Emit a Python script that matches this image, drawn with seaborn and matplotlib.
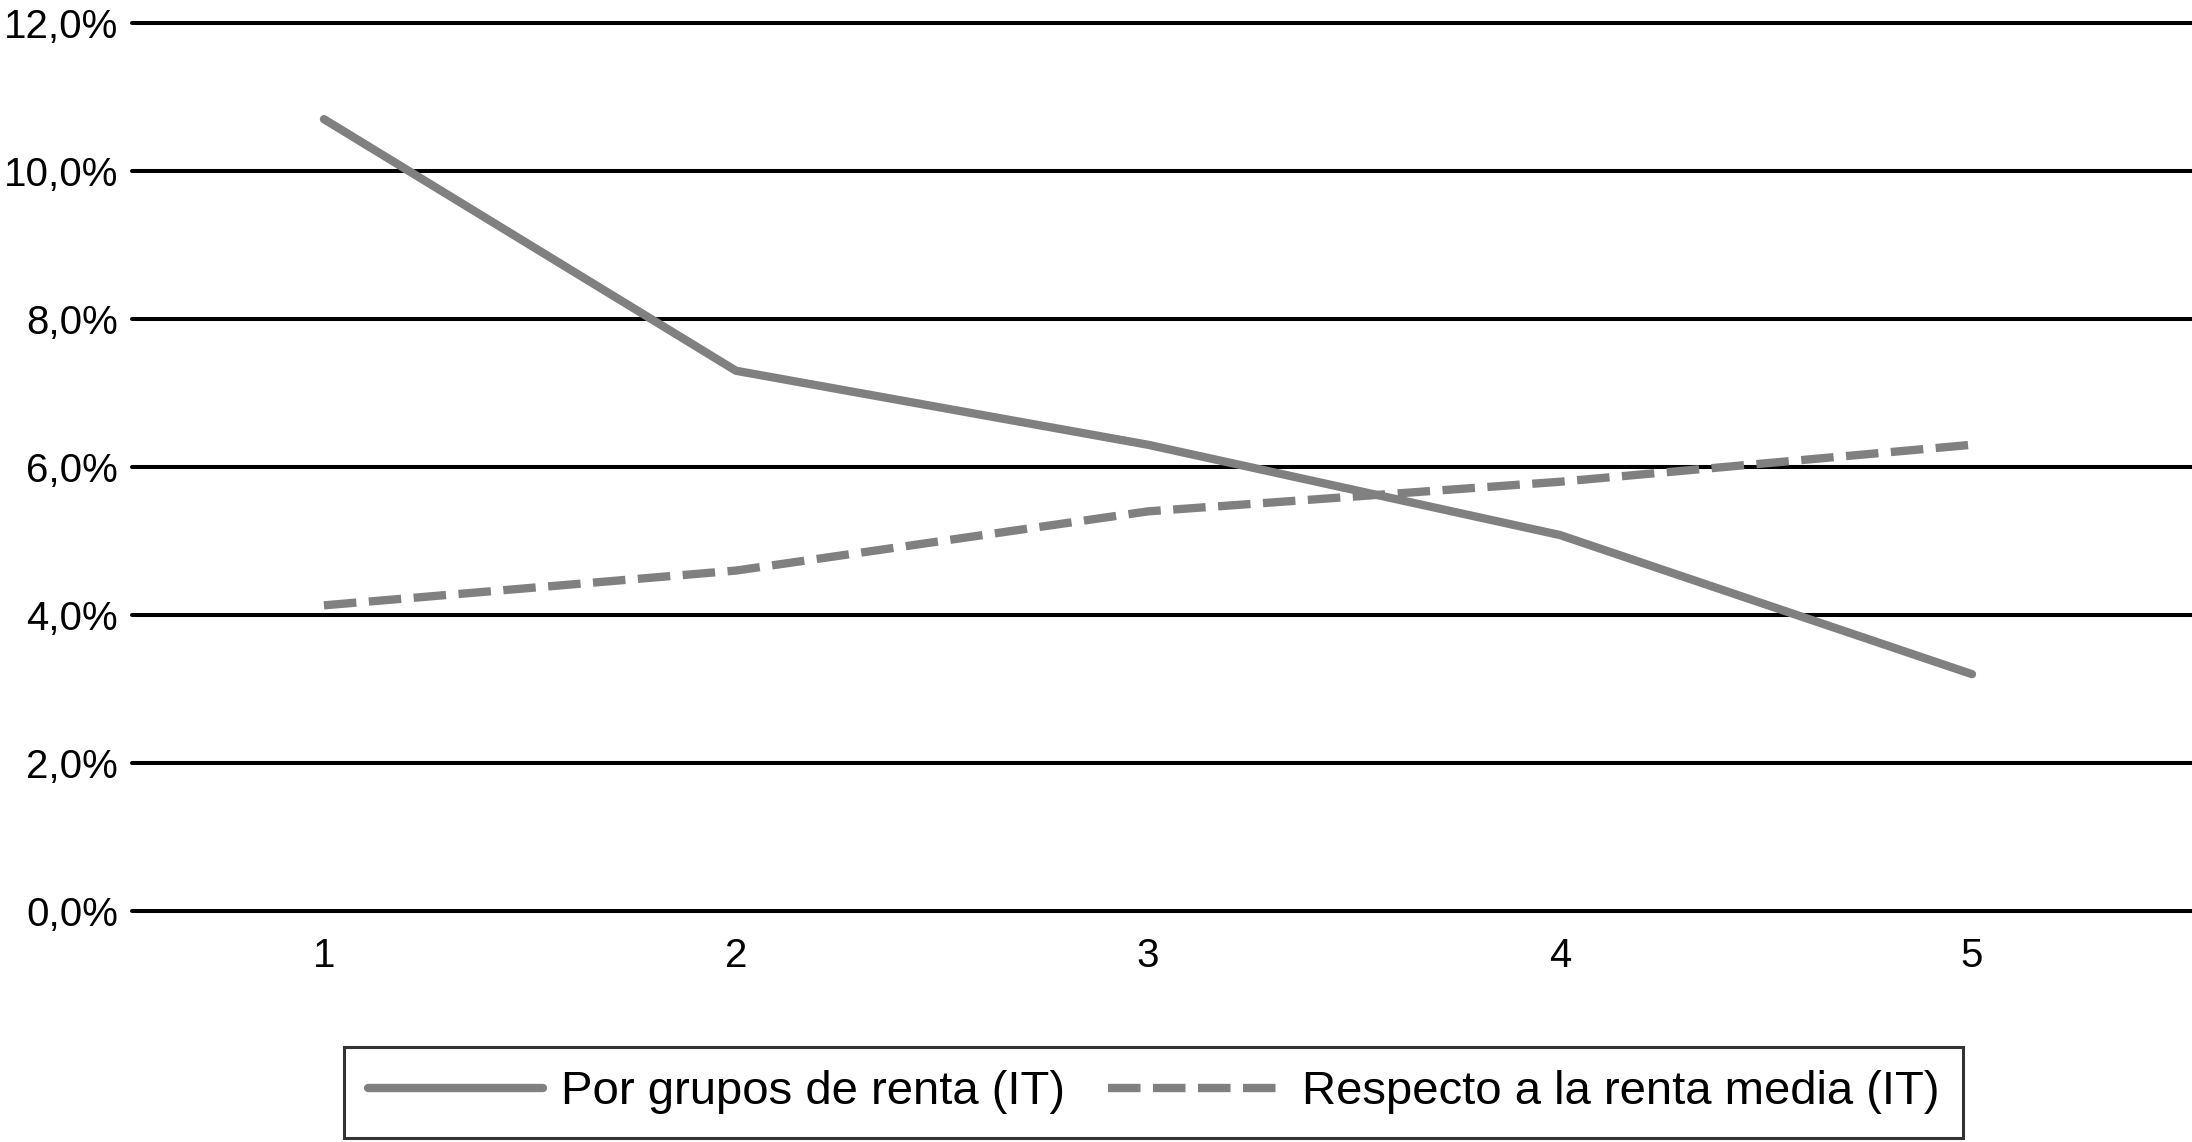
import pandas as pd
import matplotlib
matplotlib.use("Agg")
import matplotlib.pyplot as plt
import seaborn as sns
from matplotlib.ticker import FuncFormatter

# -----------------------------
# data
# -----------------------------
grupos = [1, 2, 3, 4, 5]
por_grupos = [10.7, 7.3, 6.3, 5.08, 3.2]
renta_media = [4.13, 4.6, 5.4, 5.8, 6.3]
series_names = ["Por grupos de renta (IT)", "Respecto a la renta media (IT)"]
y_ticks = [0, 2, 4, 6, 8, 10, 12]

df = pd.DataFrame({
    "Grupo": grupos * 2,
    "Valor": por_grupos + renta_media,
    "Serie": [series_names[0]] * len(grupos) + [series_names[1]] * len(grupos),
})

sns.set_style("white")
plt.rcParams["font.family"] = ["Liberation Sans", "DejaVu Sans"]
plt.rcParams["text.color"] = "black"

gray = "#808080"
fig = plt.figure(figsize=(21.92, 11.42), dpi=100)
ax = fig.add_axes([0.0602, 0.2023, 0.9398, 0.7776])

sns.lineplot(
    data=df, x="Grupo", y="Valor",
    hue="Serie", style="Serie",
    palette={series_names[0]: gray, series_names[1]: gray},
    dashes={series_names[0]: "", series_names[1]: (3.9, 1.5)},
    linewidth=6.0,
    ax=ax,
)

# -----------------------------
# axes
# -----------------------------
ax.set_xlim(0.534, 5.534)
ax.set_ylim(0, 12)
ax.set_xticks(grupos)
ax.set_yticks(y_ticks)
ax.yaxis.set_major_formatter(FuncFormatter(lambda v, p: f"{v:.1f}%".replace(".", ",")))
ax.set_xlabel("")
ax.set_ylabel("")
ax.tick_params(axis="both", length=0, labelsize=29, labelcolor="black")
ax.tick_params(axis="y", pad=10)
ax.tick_params(axis="x", pad=19)
for s in ax.spines.values():
    s.set_visible(False)

ax.grid(axis="y", color="black", linewidth=2.9)
ax.grid(axis="x", visible=False)
ax.set_axisbelow(True)
for gl in ax.get_ygridlines():
    gl.set_clip_on(False)

# legend
handles, labels = ax.get_legend_handles_labels()
ax.get_legend().remove()
leg = fig.legend(
    handles, labels, ncol=2,
    loc="center", bbox_to_anchor=(0.5262, 0.0434),
    fontsize=34, frameon=True, fancybox=False,
    handlelength=3.7, handletextpad=0.4, columnspacing=0.9,
    borderpad=0.5, borderaxespad=0,
)
leg.get_frame().set_edgecolor("black")
leg.get_frame().set_linewidth(2.2)

plt.savefig("out.png", dpi=100, facecolor="white")
